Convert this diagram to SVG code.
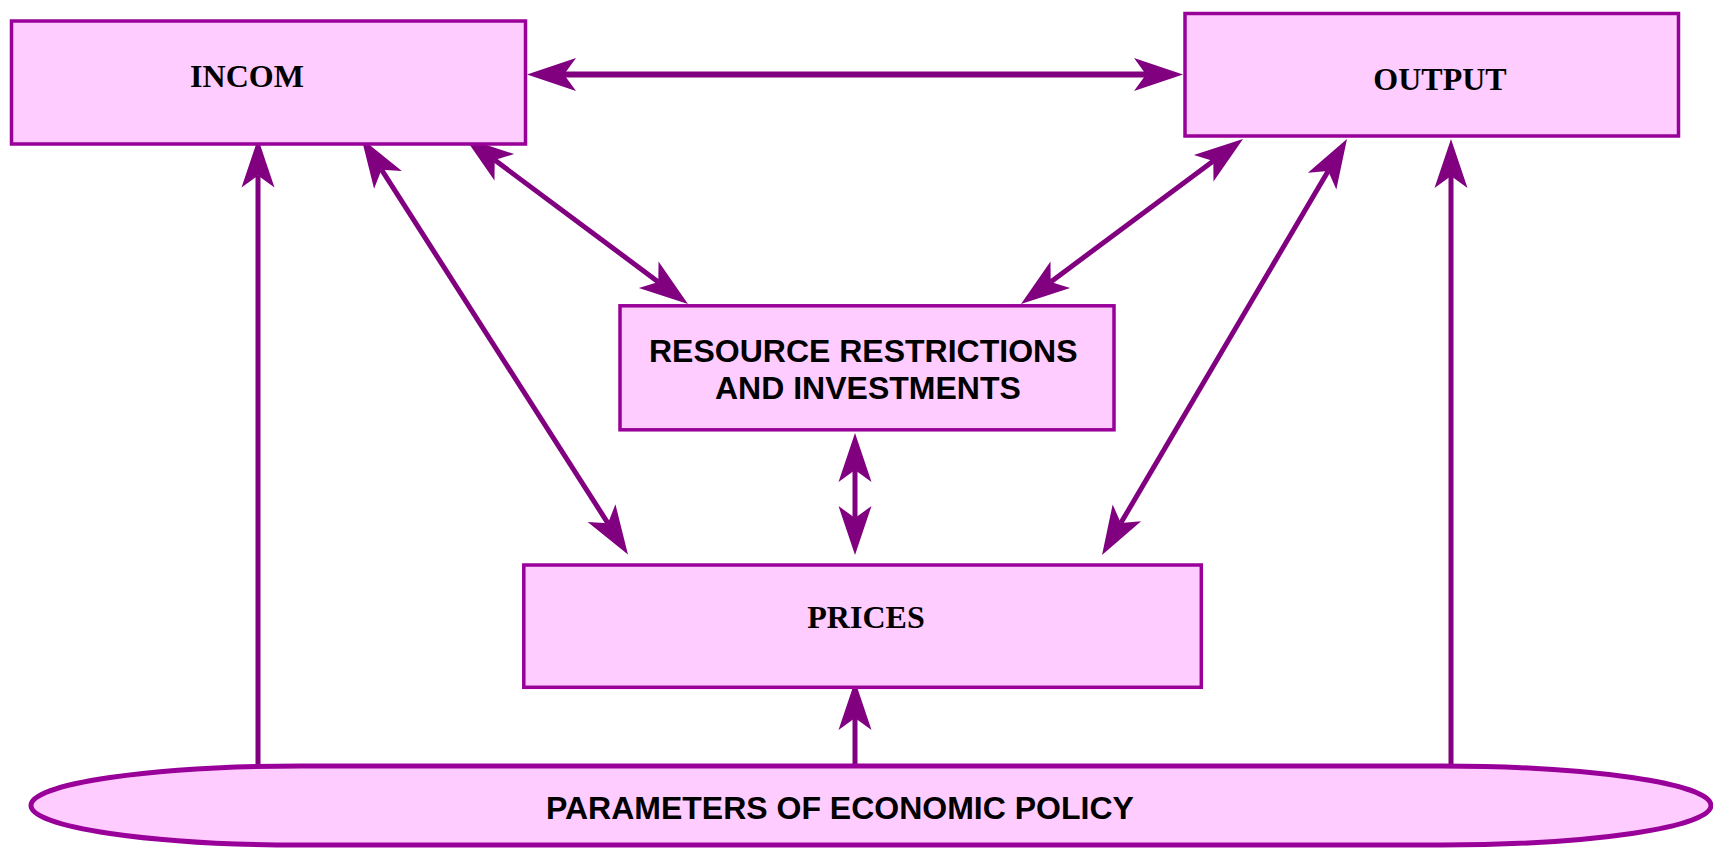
<svg xmlns="http://www.w3.org/2000/svg" width="1713" height="848" viewBox="0 0 1713 848">
  <style>
    .box { fill: #FFCCFF; stroke: #990099; stroke-width: 3.5; }
    .oval { fill: #FFCCFF; stroke: #990099; stroke-width: 5; }
    .serif { font-family: "Liberation Serif", "Times New Roman", serif; font-weight: bold; font-size: 32px; fill: #000; }
    .sans { font-family: "Liberation Sans", Arial, sans-serif; font-weight: bold; font-size: 32px; fill: #000; }
    .link { fill: none; stroke: #800080; stroke-width: 5; marker-end: url(#head); }
    .both { marker-start: url(#head); }
  </style>
  <defs>
    <!-- barbed arrowhead; the line ends at the notch, the tip sits 37px further on -->
    <marker id="head" markerUnits="userSpaceOnUse" viewBox="-15 -20 55 40" markerWidth="55" markerHeight="40" refX="0" refY="0" orient="auto-start-reverse">
      <path d="M37,0 L-12,-16.5 L0,0 L-12,16.5 Z" fill="#800080"/>
    </marker>
  </defs>

  <rect width="1713" height="848" fill="#fff"/>

  <g id="connectors">
    <path class="link both" d="M564,74.5 H1146" style="stroke-width:6"/>
    <path class="link" d="M258,766 V175.5"/>
    <path class="link both" d="M381.5,169.7 L608,523.3"/>
    <path class="link both" d="M494.7,160.1 L658.3,281.9"/>
    <path class="link both" d="M1213.3,161.1 L1050.7,281.9"/>
    <path class="link both" d="M1328.2,170.9 L1120.8,523.1"/>
    <path class="link" d="M1451,766 V176"/>
    <path class="link both" d="M855,470 V518"/>
    <path class="link" d="M855,766 V718"/>
  </g>

  <g id="incom">
    <rect class="box" x="11.5" y="21" width="514" height="123"/>
    <text class="serif" x="247" y="87" text-anchor="middle">INCOM</text>
  </g>

  <g id="output">
    <rect class="box" x="1185" y="13.5" width="493.5" height="122.5"/>
    <text class="serif" x="1440" y="90" text-anchor="middle">OUTPUT</text>
  </g>

  <g id="resources">
    <rect class="box" x="620" y="305.8" width="494" height="124"/>
    <text class="sans" x="649" y="361.5">RESOURCE RESTRICTIONS</text>
    <text class="sans" x="715" y="399">AND INVESTMENTS</text>
  </g>

  <g id="prices">
    <rect class="box" x="523.8" y="565" width="677.5" height="122.3"/>
    <text class="serif" x="866" y="628" text-anchor="middle">PRICES</text>
  </g>

  <g id="policy">
    <path class="oval" d="M301,766 H1441 A270,39.5 0 0 1 1441,845 H301 A270,39.5 0 0 1 301,766 Z"/>
    <text class="sans" x="546" y="819">PARAMETERS OF ECONOMIC POLICY</text>
  </g>
</svg>
